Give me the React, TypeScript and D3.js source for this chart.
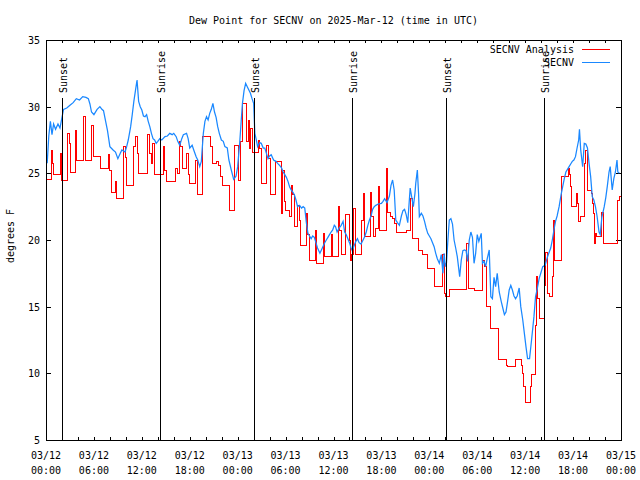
import React from "react";
import * as d3 from "d3";

const TITLE = "Dew Point for SECNV on 2025-Mar-12 (time in UTC)";
const Y_LABEL = "degrees F";
const SERIES_NAMES = ["SECNV Analysis", "SECNV"];
const SERIES_COLORS = ["#ff0000", "#1a88ff"];
const START_MS = Date.UTC(2025, 2, 12, 0, 0);
const SPAN_HOURS = 72;
const Y_DOMAIN = [5, 35];
const Y_TICKS = [5, 10, 15, 20, 25, 30, 35];
const EVENT_HOURS = [2.03, 14.3, 26.05, 38.3, 50.1, 62.3];
const EVENT_LABELS = ["Sunset", "Sunrise", "Sunset", "Sunrise", "Sunset", "Sunrise"];

// SECNV Analysis (step line)
const analysisHours = [0, 0.75, 0.85, 0.95, 1.8, 1.95, 2.75, 2.95, 3.1, 3.65, 3.8, 4.75, 4.9, 5.75, 5.9, 6.85, 7.8, 7.95, 8.15, 8.7, 8.85, 9.7, 9.95, 10.1, 11.0, 11.25, 11.45, 11.6, 12.7, 12.95, 13.15, 13.35, 13.6, 14.75, 14.9, 15.05, 16.2, 16.45, 16.7, 16.9, 17.05, 17.65, 17.85, 18.0, 18.75, 18.95, 19.65, 20.65, 20.85, 21.3, 21.6, 21.9, 22.1, 22.95, 23.55, 24.1, 24.4, 24.65, 25.15, 25.35, 25.5, 25.65, 25.85, 26.55, 26.75, 26.95, 27.65, 27.8, 28.15, 28.7, 29.5, 29.6, 29.85, 30.0, 30.55, 30.7, 30.9, 31.15, 31.55, 31.7, 31.9, 32.65, 32.8, 32.95, 33.7, 33.85, 34.7, 34.9, 35.75, 35.9, 36.6, 36.8, 36.95, 37.5, 37.95, 38.1, 38.3, 38.55, 38.75, 39.55, 39.7, 39.85, 40.65, 40.8, 40.95, 41.25, 41.6, 41.75, 42.6, 42.75, 43.1, 43.45, 43.7, 43.95, 45.15, 45.65, 45.85, 46.6, 47.1, 47.75, 48.7, 49.7, 49.85, 50.0, 50.55, 51.75, 52.6, 52.95, 53.7, 54.65, 54.95, 55.15, 55.65, 56.7, 57.65, 57.85, 58.75, 59.55, 59.7, 59.85, 60.05, 60.65, 60.75, 61.35, 61.45, 61.55, 61.75, 62.45, 62.55, 62.75, 63.0, 63.45, 63.55, 63.7, 64.5, 64.6, 65.45, 65.55, 65.7, 65.8, 66.45, 66.6, 66.7, 66.9, 67.45, 67.6, 67.75, 68.35, 68.45, 68.55, 68.7, 68.8, 68.95, 69.5, 69.6, 69.75, 71.6, 71.75, 72];
const analysisValues = [24.55, 26.75, 25.75, 24.95, 26.5, 24.5, 28, 27.25, 25.1, 28.25, 26, 29.25, 26, 28.6, 26.25, 25.4, 26.4, 25.25, 23.6, 24.4, 23.1, 27, 26.2, 24.1, 27, 27.75, 26.5, 25, 27.9, 26.5, 25.75, 27.25, 24.9, 27.05, 25.25, 24.4, 25.4, 25, 27.4, 27, 25.4, 26.5, 24.9, 24.25, 26, 23.4, 27.8, 27, 25.75, 25.9, 25.6, 24.75, 24.1, 22.25, 27.1, 24.5, 27.4, 30.25, 27.4, 29, 26.9, 28.4, 26.6, 27.5, 26.9, 24.25, 27.1, 26.1, 23.4, 25.9, 22, 25.25, 22.9, 22.25, 21.75, 24.1, 23.4, 21, 22.6, 21.5, 19.6, 22, 20.4, 18.5, 20.75, 18.25, 20.5, 18.75, 20.4, 18.75, 22.5, 20.75, 18.9, 21.9, 20, 18.5, 18.9, 22.4, 18.9, 21.5, 23.5, 20.25, 23.6, 21.75, 20.25, 20.9, 24, 20.75, 25.4, 22.1, 21.75, 21.6, 21.25, 20.6, 20.75, 23.1, 20.1, 19.25, 18.9, 17.9, 16.5, 18.9, 16, 15.75, 16.3, 16.3, 19.75, 16.4, 16.25, 18.5, 18, 15, 13.4, 11.05, 10.6, 10.55, 11.05, 10.6, 10, 9, 7.8, 9, 9.9, 13.6, 17.25, 15.6, 14.1, 16.6, 19.1, 16, 15.75, 17.25, 21.5, 18.5, 20, 24.75, 25.4, 24.9, 24, 22.5, 23.5, 22.75, 21.4, 21.75, 25.75, 26.75, 23.75, 23.5, 22.75, 22, 19.75, 20.5, 20.25, 20.6, 22.1, 19.75, 23, 23.25, 23.25];

// SECNV observations
const obsHours = [0.15, 0.35, 0.55, 0.75, 0.95, 1.2, 1.5, 1.75, 2.0, 2.2, 2.6, 3.0, 3.4, 3.8, 4.2, 4.6, 5.0, 5.3, 5.5, 5.7, 6.0, 6.4, 6.75, 7.0, 7.2, 7.5, 7.7, 8.0, 8.4, 8.7, 9.0, 9.3, 9.5, 9.9, 10.1, 10.3, 10.6, 10.8, 11.0, 11.2, 11.4, 11.6, 11.8, 12.0, 12.2, 12.4, 12.6, 12.8, 13.0, 13.2, 13.4, 13.6, 13.8, 14.0, 14.25, 14.5, 14.9, 15.2, 15.5, 15.8, 16.0, 16.3, 16.5, 16.75, 17.0, 17.2, 17.6, 17.8, 18.0, 18.3, 18.5, 18.8, 19.0, 19.25, 19.45, 19.7, 19.9, 20.1, 20.3, 20.5, 20.7, 20.9, 21.1, 21.3, 21.5, 21.7, 21.96, 22.2, 22.4, 22.7, 22.9, 23.2, 23.5, 23.8, 24.0, 24.25, 24.45, 24.6, 24.8, 25.0, 25.2, 25.4, 25.6, 25.8, 26.0, 26.15, 26.3, 26.5, 26.75, 26.95, 27.2, 27.4, 27.6, 27.8, 28.0, 28.2, 28.5, 28.8, 29.0, 29.25, 29.5, 29.7, 29.9, 30.1, 30.3, 30.5, 30.7, 30.9, 31.1, 31.3, 31.5, 31.75, 32.0, 32.2, 32.4, 32.6, 32.8, 33.0, 33.2, 33.4, 33.6, 33.8, 34.0, 34.3, 34.6, 34.9, 35.1, 35.3, 35.5, 35.7, 35.9, 36.1, 36.25, 36.45, 36.7, 36.96, 37.2, 37.4, 37.6, 37.8, 38.0, 38.2, 38.35, 38.6, 38.8, 39.0, 39.2, 39.45, 39.7, 39.9, 40.1, 40.3, 40.5, 40.7, 40.9, 41.1, 41.3, 41.6, 42.0, 42.2, 42.4, 42.7, 43.0, 43.2, 43.4, 43.6, 43.8, 44.0, 44.25, 44.5, 44.7, 44.9, 45.1, 45.3, 45.6, 45.8, 46.0, 46.2, 46.3, 46.5, 46.65, 46.75, 47.0, 47.2, 47.4, 47.6, 47.8, 48.0, 48.2, 48.4, 48.6, 48.8, 49.0, 49.25, 49.5, 49.7, 49.85, 50.0, 50.15, 50.3, 50.5, 50.7, 50.9, 51.1, 51.3, 51.5, 51.8, 52.0, 52.2, 52.4, 52.6, 52.8, 53.0, 53.2, 53.4, 53.6, 53.8, 54.0, 54.2, 54.5, 54.65, 54.85, 55.05, 55.25, 55.5, 55.7, 55.9, 56.1, 56.3, 56.5, 56.75, 57.0, 57.2, 57.4, 57.6, 57.8, 58.0, 58.2, 58.4, 58.6, 58.8, 59.0, 59.25, 59.45, 59.7, 59.9, 60.1, 60.3, 60.55, 60.8, 61.1, 61.3, 61.5, 61.75, 62.0, 62.2, 62.5, 62.8, 63.2, 63.4, 63.6, 63.8, 64.0, 64.25, 64.5, 64.7, 64.9, 65.1, 65.3, 65.5, 65.7, 65.9, 66.1, 66.3, 66.5, 66.7, 66.8, 66.95, 67.1, 67.2, 67.4, 67.6, 67.8, 68.0, 68.2, 68.4, 68.6, 68.8, 69.0, 69.25, 69.4, 69.6, 69.9, 70.1, 70.3, 70.5, 70.65, 70.9, 71.1, 71.3, 71.5, 71.6, 71.8];
const obsValues = [25.75, 27.8, 28.9, 27.9, 28.7, 28.3, 28.7, 28.4, 29.2, 29.8, 29.9, 30.1, 30.3, 30.6, 30.5, 30.75, 30.7, 30.6, 30.2, 29.6, 29.4, 29.8, 30.0, 29.8, 29.7, 28.8, 28.2, 27.0, 26.75, 26.6, 26.1, 26.5, 26.75, 26.6, 27.0, 27.5, 28.5, 29.4, 30.4, 31.2, 32.0, 30.4, 30.0, 29.75, 29.3, 29.25, 29.4, 28.9, 28.5, 28.0, 27.6, 27.5, 27.25, 27.4, 27.6, 27.5, 27.75, 27.8, 28.0, 27.9, 28.0, 27.75, 27.4, 27.1, 27.6, 27.9, 28.0, 27.6, 26.9, 27.1, 26.75, 26.25, 26.0, 25.5, 25.9, 28.0, 28.9, 29.25, 29.0, 29.5, 29.8, 30.25, 29.6, 29.2, 28.5, 28.0, 27.5, 27.4, 27.0, 26.9, 26.0, 25.25, 24.55, 24.8, 25.5, 27.25, 29.0, 30.25, 31.2, 31.75, 31.5, 31.25, 31.0, 30.6, 30.25, 28.0, 27.6, 27.0, 27.3, 27.25, 26.9, 26.9, 26.5, 26.1, 26.3, 26.4, 26.0, 25.9, 25.75, 25.6, 25.4, 25.1, 24.9, 24.7, 24.4, 24.0, 23.75, 23.6, 23.4, 23.0, 22.5, 22.6, 22.4, 22.5, 22.4, 21.3, 20.5, 20.3, 20.1, 20.3, 20.2, 19.8, 19.4, 19.0, 19.4, 19.8, 20.0, 20.2, 20.4, 20.6, 20.75, 21.1, 21.0, 20.6, 20.9, 21.1, 21.4, 20.6, 20.4, 20.1, 19.8, 19.4, 19.2, 19.6, 19.9, 20.1, 19.8, 19.7, 20.0, 20.25, 20.6, 21.1, 21.5, 21.8, 22.3, 22.5, 22.6, 22.7, 22.75, 22.9, 23.1, 22.8, 23.3, 24.1, 24.5, 23.75, 21.5, 21.3, 21.1, 21.8, 22.2, 22.3, 21.9, 21.3, 23.9, 23.2, 22.5, 23.5, 24.25, 25.25, 23.5, 21.75, 22.0, 21.8, 21.4, 20.9, 20.5, 20.3, 20.1, 19.8, 19.5, 19.0, 18.6, 18.25, 18.9, 17.5, 19.0, 18.0, 18.3, 19.75, 21.5, 21.6, 21.2, 20.0, 19.4, 18.75, 17.25, 18.5, 19.2, 19.25, 19.2, 18.4, 20.0, 20.6, 20.2, 18.25, 19.0, 20.4, 19.9, 20.5, 18.25, 18.4, 18.0, 18.6, 19.25, 15.75, 15.6, 17.2, 16.5, 17.5, 16.1, 15.4, 14.9, 14.4, 14.6, 15.4, 16.25, 16.6, 16.25, 15.8, 15.6, 15.8, 16.4, 15.0, 14.0, 13.0, 12.0, 11.1, 11.1, 12.5, 14.25, 15.75, 16.3, 17.1, 17.6, 18.0, 18.1, 18.75, 19.4, 20.0, 20.75, 21.4, 21.8, 22.5, 23.4, 24.0, 24.6, 25.1, 25.3, 25.5, 25.7, 25.9, 26.0, 26.25, 26.9, 27.5, 28.3, 26.8, 26.0, 25.5, 27.25, 27.2, 26.9, 25.75, 24.75, 23.25, 23.0, 22.5, 21.8, 20.6, 20.4, 21.7, 22.5, 23.2, 24.1, 25.1, 25.5, 23.75, 24.6, 25.1, 26.0, 25.1, 25.0];

const W = 640;
const H = 480;
const LEFT = 46;
const RIGHT = 621;
const TOP = 40;
const BOTTOM = 440;
const FONT = "'DejaVu Sans Mono', monospace";

const toDate = (h: number) => new Date(START_MS + h * 3600000);

export default function App() {
  const x = d3.scaleUtc().domain([toDate(0), toDate(SPAN_HOURS)]).range([LEFT, RIGHT]);
  const y = d3.scaleLinear().domain(Y_DOMAIN).range([BOTTOM, TOP]);

  const analysis = analysisHours.map((h, i) => ({ t: toDate(h), v: analysisValues[i] }));
  const obs = obsHours.map((h, i) => ({ t: toDate(h), v: obsValues[i] }));

  const stepLine = d3.line<{ t: Date; v: number }>()
    .x((d) => x(d.t))
    .y((d) => y(d.v))
    .curve(d3.curveStepAfter);
  const plainLine = d3.line<{ t: Date; v: number }>()
    .x((d) => x(d.t))
    .y((d) => y(d.v));

  const minorTicks = x.ticks(d3.utcHour.every(2)!);
  const majorTicks = x.ticks(d3.utcHour.every(6)!);
  const fmtDate = d3.utcFormat("%m/%d");
  const fmtTime = d3.utcFormat("%H:%M");

  return (
    <svg width={W} height={H} style={{ position: "absolute", left: 0, top: 0, background: "#fff" }}
      fontFamily={FONT} fontSize={10}>
      <rect x={0} y={0} width={W} height={H} fill="#fff" />
      <text x={(LEFT + RIGHT) / 2} y={24} textAnchor="middle" fill="#000">{TITLE}</text>
      <text transform={`translate(14,${(TOP + BOTTOM) / 2 - 4}) rotate(-90)`} textAnchor="middle" fill="#000">{Y_LABEL}</text>

      {/* y ticks */}
      {Y_TICKS.map((v) => (
        <g key={`y${v}`} shapeRendering="crispEdges">
          <line x1={LEFT} x2={LEFT + 5} y1={Math.round(y(v)) + 0.5} y2={Math.round(y(v)) + 0.5} stroke="#000" />
          <line x1={RIGHT - 5} x2={RIGHT} y1={Math.round(y(v)) + 0.5} y2={Math.round(y(v)) + 0.5} stroke="#000" />
          <text x={40} y={y(v) + 4} textAnchor="end" fill="#000" shapeRendering="auto">{v}</text>
        </g>
      ))}

      {/* x ticks */}
      {minorTicks.map((d) => {
        const px = Math.round(x(d)) + 0.5;
        return (
          <g key={`xt${+d}`} shapeRendering="crispEdges">
            <line x1={px} x2={px} y1={BOTTOM} y2={BOTTOM - 3} stroke="#000" />
            <line x1={px} x2={px} y1={TOP} y2={TOP + 3} stroke="#000" />
          </g>
        );
      })}
      {majorTicks.map((d) => (
        <g key={`xl${+d}`}>
          <text x={x(d)} y={459} textAnchor="middle" fill="#000">{fmtDate(d)}</text>
          <text x={x(d)} y={474} textAnchor="middle" fill="#000">{fmtTime(d)}</text>
        </g>
      ))}

      {/* data */}
      <path d={stepLine(analysis) || ""} fill="none" stroke={SERIES_COLORS[0]} strokeWidth={1} shapeRendering="crispEdges" />
      <path d={plainLine(obs) || ""} fill="none" stroke={SERIES_COLORS[1]} strokeWidth={1.25} />

      {/* sunrise / sunset */}
      {EVENT_HOURS.map((h, i) => {
        const px = Math.round(x(toDate(h))) + 0.5;
        return (
          <g key={`ev${i}`}>
            <line x1={px} x2={px} y1={98} y2={BOTTOM} stroke="#000" shapeRendering="crispEdges" />
            <text transform={`translate(${px + 4},93) rotate(-90)`} textAnchor="start" fill="#000">{EVENT_LABELS[i]}</text>
          </g>
        );
      })}

      {/* frame */}
      <rect x={LEFT + 0.5} y={TOP + 0.5} width={RIGHT - LEFT} height={BOTTOM - TOP} fill="none" stroke="#000" shapeRendering="crispEdges" />

      {/* legend */}
      {SERIES_NAMES.map((name, i) => (
        <g key={`lg${i}`}>
          <text x={574} y={53 + i * 13} textAnchor="end" fill="#000">{name}</text>
          <line x1={582} x2={610} y1={49.5 + i * 13} y2={49.5 + i * 13} stroke={SERIES_COLORS[i]} shapeRendering="crispEdges" />
        </g>
      ))}
    </svg>
  );
}
